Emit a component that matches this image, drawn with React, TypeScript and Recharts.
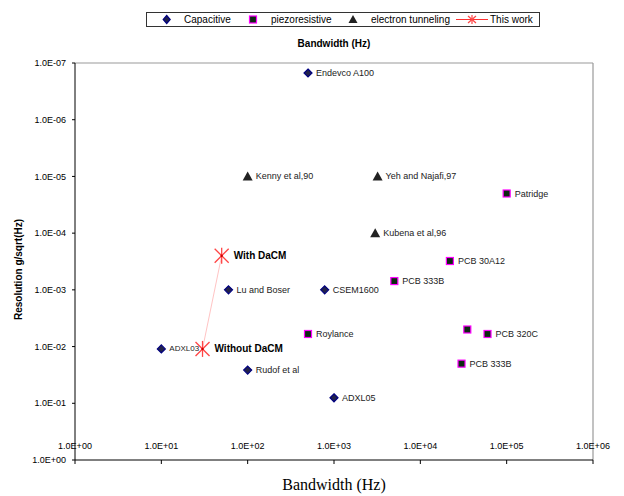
import {
  ScatterChart, Scatter, XAxis, YAxis, ReferenceLine
} from 'recharts';

const FONT = '"Liberation Sans", Arial, sans-serif';

// Capacitive devices
const capNames = ['Endevco A100', 'Lu and Boser', 'CSEM1600', 'ADXL03', 'Rudof et al', 'ADXL05'];
const capBandwidth = [500, 60, 780, 10, 100, 1000];
const capResolution = [1.5e-7, 1e-3, 1e-3, 1.1e-2, 2.6e-2, 8e-2];

// Piezoresistive devices
const piezoNames = ['Patridge', 'PCB 30A12', 'PCB 333B', 'Roylance', '', 'PCB 320C', 'PCB 333B'];
const piezoBandwidth = [1e5, 22000, 5000, 500, 35000, 60000, 30000];
const piezoResolution = [2e-5, 3.1e-4, 7e-4, 6e-3, 5e-3, 6e-3, 2e-2];

// Electron tunneling devices
const tunnelNames = ['Kenny et al,90', 'Yeh and Najafi,97', 'Kubena et al,96'];
const tunnelBandwidth = [100, 3200, 3000];
const tunnelResolution = [1e-5, 1e-5, 1e-4];

// This work
const workNames = ['With DaCM', 'Without DaCM'];
const workBandwidth = [50, 30];
const workResolution = [2.5e-4, 1.1e-2];

const xTicks = [1, 10, 100, 1e3, 1e4, 1e5, 1e6];
const yTicks = [1e-7, 1e-6, 1e-5, 1e-4, 1e-3, 1e-2, 1e-1, 1];

const toRows = (names: string[], xs: number[], ys: number[]) =>
  names.map((name, i) => ({ name, x: xs[i], y: ys[i] }));

const capData = toRows(capNames, capBandwidth, capResolution);
const piezoData = toRows(piezoNames, piezoBandwidth, piezoResolution);
const tunnelData = toRows(tunnelNames, tunnelBandwidth, tunnelResolution);
const workData = toRows(workNames, workBandwidth, workResolution);

/** 1 -> '1.0E+00', 1e-7 -> '1.0E-07' */
function sci(v: number): string {
  const e = Math.round(Math.log10(v));
  return `1.0E${e < 0 ? '-' : '+'}${String(Math.abs(e)).padStart(2, '0')}`;
}

const label = (cx: number, cy: number, text: string, opts: any = {}) =>
  text ? (
    <text
      x={cx + (opts.dx ?? 8)}
      y={cy}
      dominantBaseline="central"
      fontFamily={FONT}
      fontSize={opts.size ?? 9}
      fontWeight={opts.bold ? 'bold' : 'normal'}
      fill={opts.bold ? '#000' : '#222'}
    >
      {text}
    </text>
  ) : null;

const Diamond = ({ cx, cy, payload }: any) => (
  <g>
    <path d={`M${cx},${cy - 4}L${cx + 4},${cy}L${cx},${cy + 4}L${cx - 4},${cy}Z`}
      fill="#22224a" stroke="#000080" strokeWidth={1.2} />
    {label(cx, cy, payload.name, { size: payload.name === 'ADXL03' ? 8 : 9 })}
  </g>
);

const Square = ({ cx, cy, payload }: any) => (
  <g>
    <rect x={cx - 3.5} y={cy - 3.5} width={7} height={7} fill="#0d2a12" stroke="#ff00ff" strokeWidth={1.2} />
    {label(cx, cy, payload.name)}
  </g>
);

const Triangle = ({ cx, cy, payload }: any) => (
  <g>
    <path d={`M${cx},${cy - 5}L${cx + 5},${cy + 4}L${cx - 5},${cy + 4}Z`} fill="#222" />
    {label(cx, cy, payload.name)}
  </g>
);

const Star = ({ cx, cy, payload }: any) => (
  <g>
    <g stroke="#ff4545" strokeWidth={1.3}>
      <line x1={cx} y1={cy - 8} x2={cx} y2={cy + 8} />
      <line x1={cx - 7} y1={cy - 7} x2={cx + 7} y2={cy + 7} />
      <line x1={cx - 7} y1={cy + 7} x2={cx + 7} y2={cy - 7} />
    </g>
    <circle cx={cx} cy={cy} r={1.2} fill="#c00" />
    {label(cx, cy, payload.name, { dx: 12, size: 10, bold: true })}
  </g>
);

const XTick = ({ x, payload }: any) => (
  <text x={x} y={446} textAnchor="middle" dominantBaseline="central" fontFamily={FONT} fontSize={9} fill="#000">
    {sci(payload.value)}
  </text>
);

export default function App() {
  return (
    <div style={{ position: 'relative', width: 624, height: 496, background: '#fff', fontFamily: FONT }}>
      <style>{'body{margin:0}'}</style>
      <ScatterChart width={624} height={496} margin={{ top: 63, right: 31, bottom: 0, left: 0 }}>
        <XAxis
          type="number" dataKey="x" scale="log" domain={[1, 1e6]} allowDataOverflow
          ticks={xTicks} interval={0} height={36}
          stroke="#000" tickSize={4} tick={<XTick />}
        />
        <YAxis
          type="number" dataKey="y" scale="log" domain={[1e-7, 1]} allowDataOverflow reversed
          ticks={yTicks} interval={0} width={75}
          stroke="#000" tickSize={3} tickMargin={6} tickFormatter={sci}
          tick={{ fontSize: 9, fill: '#000', fontFamily: FONT }}
        />
        <ReferenceLine y={1e-7} stroke="#999" strokeWidth={1.2} />
        <ReferenceLine x={1e6} stroke="#999" strokeWidth={1.2} />
        <Scatter data={capData} shape={<Diamond />} isAnimationActive={false} />
        <Scatter data={piezoData} shape={<Square />} isAnimationActive={false} />
        <Scatter data={tunnelData} shape={<Triangle />} isAnimationActive={false} />
        <Scatter data={workData} shape={<Star />} line={{ stroke: '#ffc4c4', strokeWidth: 1 }}
          isAnimationActive={false} />
      </ScatterChart>

      {/* legend */}
      <div style={{ position: 'absolute', left: 146, top: 12, width: 394, height: 15, border: '1px solid #333', boxSizing: 'border-box', fontSize: 10, lineHeight: '13px' }}>
        <svg width={394} height={13} style={{ position: 'absolute', left: 0, top: 0 }}>
          <path d="M19.7,2.5L23.2,6.5L19.7,10.5L16.2,6.5Z" fill="#22224a" stroke="#000080" strokeWidth={1.2} />
          <rect x={102.5} y={3} width={7} height={7} fill="#0d2a12" stroke="#ff00ff" strokeWidth={1.2} />
          <path d="M206,2L210.5,10L201.5,10Z" fill="#222" />
          <line x1={309} y1={6.5} x2={341} y2={6.5} stroke="#ff3030" strokeWidth={1} />
          <g stroke="#ff4545" strokeWidth={1.2}>
            <line x1={325} y1={2} x2={325} y2={11} />
            <line x1={321} y1={3} x2={329} y2={10} />
            <line x1={321} y1={10} x2={329} y2={3} />
          </g>
        </svg>
        <span style={{ position: 'absolute', left: 37 }}>Capacitive</span>
        <span style={{ position: 'absolute', left: 124 }}>piezoresistive</span>
        <span style={{ position: 'absolute', left: 224 }}>electron tunneling</span>
        <span style={{ position: 'absolute', left: 343 }}>This work</span>
      </div>

      <div style={{ position: 'absolute', left: 234, width: 200, top: 38, textAlign: 'center', fontSize: 10, fontWeight: 'bold' }}>
        Bandwidth (Hz)
      </div>
      <div style={{ position: 'absolute', left: 18 - 100, width: 200, top: 264, textAlign: 'center', fontSize: 10, fontWeight: 'bold', transform: 'rotate(-90deg)' }}>
        Resolution g/sqrt(Hz)
      </div>
      <div style={{ position: 'absolute', left: 234, width: 200, top: 476, textAlign: 'center', fontSize: 16, fontFamily: '"Liberation Serif", "Times New Roman", serif' }}>
        Bandwidth (Hz)
      </div>
    </div>
  );
}
